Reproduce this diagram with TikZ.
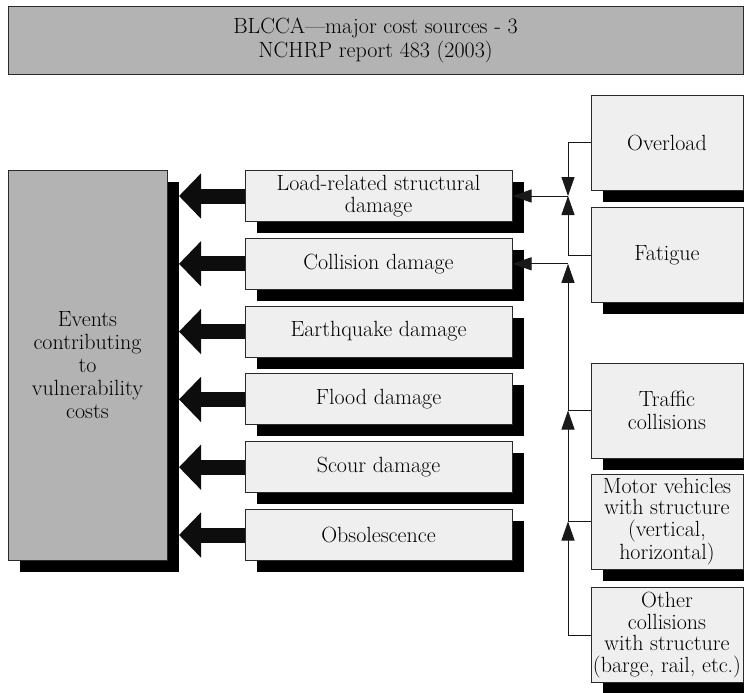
\documentclass[tikz,border=0pt]{standalone}
\usepackage{fontspec}
\usetikzlibrary{arrows.meta,shadows,calc}

\definecolor{boxgray}{HTML}{B3B3B3}
\definecolor{boxlight}{HTML}{EFEFEF}
\definecolor{edge}{HTML}{2A2A2A}

\tikzset{
  basebox/.style={draw=edge, line width=1pt, align=center, inner sep=1pt,
    font=\fontsize{22}{22.5}\selectfont},
  shadowed/.style={drop shadow={shadow xshift=11.5pt, shadow yshift=-11.5pt,
    fill=black, opacity=1}},
  graybox/.style={basebox, fill=boxgray},
  midbox/.style={basebox, shadowed, fill=boxlight, minimum width=267pt, minimum height=51pt},
  sidebox/.style={basebox, shadowed, fill=boxlight, minimum width=152pt, minimum height=95pt},
  bigarrow/.style={line width=15pt, draw=black!95, -{Triangle[length=22pt,width=44pt]}},
  thinarrow/.style={line width=1pt, draw=black!90, -{Triangle[length=19pt,width=13pt]}},
}

\begin{document}
\begin{tikzpicture}[x=1pt,y=-1pt]
  \useasboundingbox (0,0) rectangle (744,693);

  % heading
  \node[graybox, minimum width=735pt, minimum height=68pt,
        font=\fontsize{22}{23.5}\selectfont] (title) at (375.5,40.5)
    {BLCCA—major cost sources - 3\\NCHRP report 483 (2003)};

  % summary block on the left
  \node[graybox, shadowed, minimum width=159pt, minimum height=390pt,
        font=\fontsize{22}{23}\selectfont] (ev) at (87.5,365)
    {Events\\contributing\\to\\vulnerability\\costs};
  \coordinate (evs) at ($(ev.east)+(11.5,0)$);

  % cost event categories
  \node[midbox] (m1) at (378.5,196.0) {Load-related structural\\damage};
  \node[midbox] (m2) at (378.5,263.8) {Collision damage};
  \node[midbox] (m3) at (378.5,331.6) {Earthquake damage};
  \node[midbox] (m4) at (378.5,399.4) {Flood damage};
  \node[midbox] (m5) at (378.5,467.2) {Scour damage};
  \node[midbox] (m6) at (378.5,535.0) {Obsolescence};

  % sub-causes on the right
  \node[sidebox] (ov) at (667,142.5) {Overload};
  \node[sidebox] (fa) at (667,255.0) {Fatigue};
  \node[sidebox] (tc) at (667,410.5) {Traffic\\collisions};
  \node[sidebox, font=\fontsize{22}{21.5}\selectfont] (mv) at (667,521.5)
    {Motor vehicles\\with structure\\(vertical,\\horizontal)};
  \node[sidebox, font=\fontsize{22}{21.5}\selectfont] (ot) at (667,635.0)
    {Other\\collisions\\with structure\\(barge, rail, etc.)};

  % bold arrows into the summary block
  \foreach \m in {m1,m2,m3,m4,m5,m6}
    \draw[bigarrow] (\m.west) -- (\m.west -| evs);

  % junction points of the feeder lines
  \coordinate (j1) at (568,196.0);
  \coordinate (j2) at (568,263.8);

  % load-related feeders
  \draw[thinarrow] (ov.west) -| (j1);
  \draw[thinarrow] (fa.west) -| (j1);
  \draw[thinarrow] (j1) -- (m1.east);

  % collision feeders
  \draw[thinarrow] (ot.west) -| (mv.west -| j2);
  \draw[thinarrow] (mv.west) -| (tc.west -| j2);
  \draw[thinarrow] (tc.west) -| (j2);
  \draw[thinarrow] (j2) -- (m2.east);
\end{tikzpicture}
\end{document}
